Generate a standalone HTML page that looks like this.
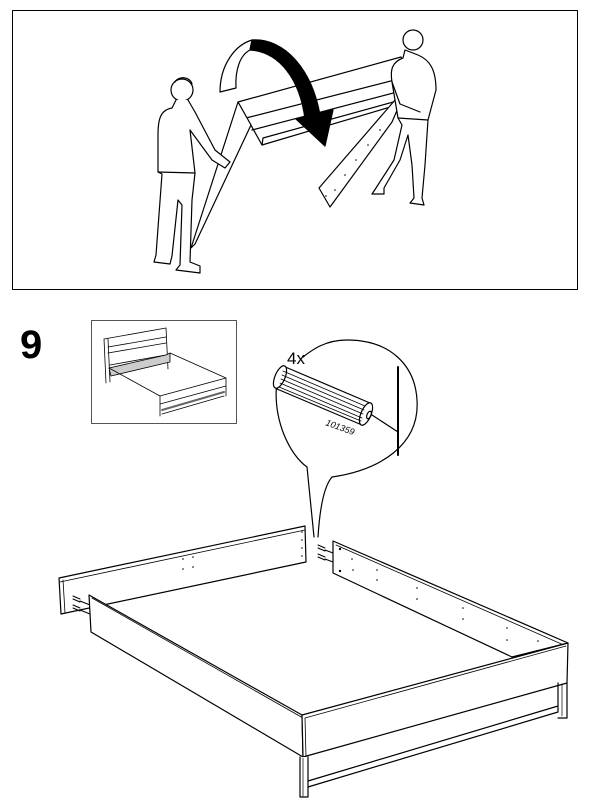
<!DOCTYPE html>
<html><head><meta charset="utf-8"><style>
html,body{margin:0;padding:0;background:#fff;}
svg{display:block;}
</style></head><body>
<svg width="601" height="809" viewBox="0 0 601 809" xmlns="http://www.w3.org/2000/svg" fill="none" stroke="#000" stroke-width="1.2" stroke-linejoin="round" stroke-linecap="round">
<!-- top frame -->
<rect x="12.5" y="10.5" width="565" height="279" stroke-width="1"/>
<!-- top long panel -->
<path d="M238,102 L401,57 L424,97 L262,145 Z" fill="#fff"/>
<path d="M246,118 L418,74 M252,130 L420,86 M262,145 L263,138 L426,93"/>
<!-- curved arrow -->
<path d="M220,92 C220,65 235,45 252,40 L250,50 C240,55 235,70 236,88 Z" fill="#fff"/>
<path d="M252,40 C285,38 312,70 320,115 L305,119 C300,80 280,52 250,50 Z" fill="#000"/>
<path d="M296,119 L333,110 L325,146 Z" fill="#000"/>
<!-- left board -->
<path d="M238,102 L191,248 L195,244 L251,125 Z" fill="#fff"/>
<!-- right board -->
<path d="M408,85 L319,188 L330,207 L392,122 Z" fill="#fff"/>
<g fill="#000" stroke="none"><circle cx="335" cy="190" r="0.8"/><circle cx="345" cy="175" r="0.8"/><circle cx="356" cy="160" r="0.8"/><circle cx="368" cy="145" r="0.8"/><circle cx="380" cy="130" r="0.8"/><circle cx="326" cy="196" r="0.8"/></g>
<!-- left person -->
<circle cx="182" cy="90" r="11" fill="#fff"/>
<path d="M175,82 C178,76 190,76 192,84" />
<path d="M176,100 L172,108 C160,110 158,120 158,135 L158,172 L162,174 L156,255 L154,262 L170,264 L172,256 L178,200 L182,205 L180,265 L176,270 L200,273 L200,266 L190,262 L192,200 L195,173 L190,130 L212,160 L225,168 L230,162 L215,150 L195,112 L188,100" fill="#fff"/>
<path d="M158,172 L195,173"/>
<!-- right person -->
<circle cx="413" cy="40" r="10" fill="#fff"/>
<path d="M405,50 L403,58 C392,62 390,70 392,82 L398,118 L402,125 L394,160 L376,188 L372,194 L384,194 L384,188 L400,160 L408,135 L412,165 L414,198 L410,203 L424,205 L422,198 L425,165 L428,120 L436,90 C436,70 430,60 418,55 Z" fill="#fff"/>
<path d="M392,82 L400,104 L420,112 M398,118 L428,120"/>
<!-- step number -->
<text x="20" y="358" font-family="Liberation Sans, sans-serif" font-weight="bold" font-size="40" fill="#000" stroke="none">9</text>
<!-- inset -->
<rect x="91.5" y="320.5" width="145" height="103" stroke="#555" stroke-width="1"/>
<g stroke-width="0.8">
<path d="M104,339 L166,328 L168,369 M104,339 L106,383 M108,339 L110,382 M108,347 L166,337 M108,353 L166,343 M110,365 L166,355" />
<path d="M109,368 L166,355 L170,353 L170,362 L111,376 Z" fill="#ccc"/>
<path d="M109,368 L160,396 L226,378 L170,353 M160,396 L160,416 M226,378 L226,396 M160,404 L226,386 M162,414 L224,396" />
<path d="M162,410 L224,392" stroke-width="2" stroke="#666"/>
</g>
<!-- magnifier -->
<path d="M277,380 C272,420 290,455 307,467 L314,537 M318,537 C320,505 325,485 332,477 C380,470 420,445 417,400 C415,365 390,340 347,340 C325,340 312,350 303,357" fill="#fff"/>
<line x1="398" y1="367" x2="398" y2="455" stroke-width="2"/>
<line x1="372" y1="415" x2="398" y2="432"/>
<g>
<path d="M283,366 L370,403 L362,425 L277,389 Z" fill="#fff"/>
<ellipse cx="280" cy="377" rx="5" ry="12" transform="rotate(23 280 377)" fill="#fff"/>
<ellipse cx="366" cy="414" rx="5" ry="12" transform="rotate(23 366 414)" fill="#fff"/>
<ellipse cx="369" cy="415" rx="2" ry="4" transform="rotate(23 369 415)"/>
<path d="M283,371 L365,406 M282,375 L364,410 M281,379 L363,414 M280,383 L362,418 M279,387 L361,421" stroke-width="0.8"/>
</g>
<text x="287" y="364" font-family="Liberation Sans, sans-serif" font-size="17" fill="#000" stroke="none">4x</text>
<text x="325" y="425" font-family="Liberation Sans, sans-serif" font-size="9" font-style="italic" fill="#000" stroke="none" transform="rotate(20 325 425)">101359</text>
<!-- bed: headboard panel -->
<path d="M59,578 L305,526 L306,562 L61,614 Z" fill="#fff"/>
<path d="M60,582 L305,530 M63,580 L65,613" stroke-width="0.8"/>
<g fill="#000" stroke="none"><circle cx="183" cy="559" r="0.8"/><circle cx="193" cy="557" r="0.8"/><circle cx="183" cy="569" r="0.8"/><circle cx="193" cy="567" r="0.8"/><circle cx="302" cy="532" r="0.8"/><circle cx="302" cy="540" r="0.8"/><circle cx="302" cy="548" r="0.8"/><circle cx="302" cy="556" r="0.8"/></g>
<!-- dowels -->
<g stroke-width="1"><path d="M73,596 L80,599 M73,599 L80,602 M73,605 L80,608 M73,608 L80,611"/><path d="M80,601 L90,605 M80,610 L90,614"/>
<path d="M318,545 L325,548 M318,548 L325,551 M318,554 L325,557 M318,557 L325,560"/><path d="M325,550 L333,553 M325,559 L333,562"/></g>
<!-- right side rail -->
<path d="M333,541 L568,643 L512,657 L333,573 Z" fill="#fff"/>
<path d="M336,545 L566,646" stroke-width="0.8"/>
<g fill="#000" stroke="none"><circle cx="340" cy="549" r="1.2"/><circle cx="340" cy="571" r="1.2"/><circle cx="352" cy="559" r="0.8"/><circle cx="353" cy="570" r="0.8"/><circle cx="377" cy="570" r="0.8"/><circle cx="377" cy="580" r="0.8"/><circle cx="417" cy="588" r="0.8"/><circle cx="417" cy="599" r="0.8"/><circle cx="463" cy="608" r="0.8"/><circle cx="463" cy="619" r="0.8"/><circle cx="507" cy="628" r="0.8"/><circle cx="507" cy="640" r="0.8"/><circle cx="538" cy="641" r="0.8"/></g>
<!-- left long rail -->
<path d="M89,595 L302,715 L303,757 L91,632 Z" fill="#fff"/>
<path d="M92,598 L303,718" stroke-width="0.8"/>
<!-- foot rail -->
<path d="M302,715 L568,643 L567,683 L303,757 Z" fill="#fff"/>
<path d="M305,718 L566,646 M305,718 L306,757" stroke-width="0.8"/>
<!-- legs & lower beam -->
<path d="M300,757 L300,797 L308,797 L308,757 M308,787 L558,712 M308,781 L558,706 M558,712 L558,683 M567,683 L567,718 L558,718" fill="#fff"/>
<path d="M303,758 L303,796 M562,684 L562,716" stroke-width="0.7"/>
</svg>
</body></html>
